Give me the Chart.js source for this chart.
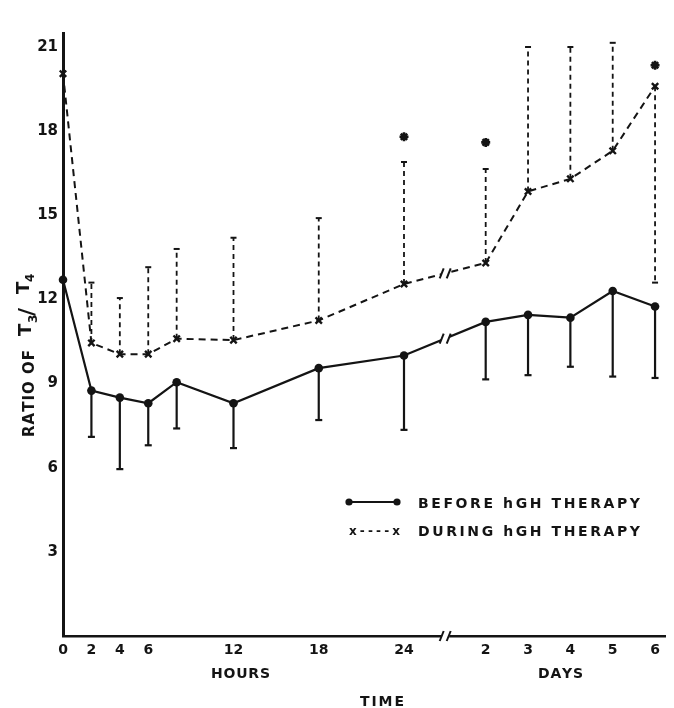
<!DOCTYPE html>
<html><head><meta charset="utf-8">
<script src="https://cdn.jsdelivr.net/npm/chart.js@4"></script>
<style>html,body{margin:0;padding:0;background:#fff}#wrap{width:674px;height:708px}</style>
</head><body><div id="wrap"><canvas id="c" width="674" height="708"></canvas></div>
<script>
// ---- data ----
const hours = [0, 2, 4, 6, 8, 12, 18, 24];
const days = [2, 3, 4, 5, 6];
const beforeMean = [12.7, 8.75, 8.5, 8.3, 9.05, 8.3, 9.55, 10.0, 11.2, 11.45, 11.35, 12.3, 11.75];
const beforeLow  = [null, 7.1, 5.95, 6.8, 7.4, 6.7, 7.7, 7.35, 9.15, 9.3, 9.6, 9.25, 9.2];
const duringMean = [20.05, 10.45, 10.05, 10.05, 10.6, 10.55, 11.25, 12.55, 13.3, 15.85, 16.3, 17.3, 19.6];
const duringEnd  = [null, 12.6, 12.05, 13.15, 13.8, 14.2, 14.9, 16.9, 16.65, 21.0, 21.0, 21.15, 12.6];
const asteriskAt = [null, null, null, null, null, null, null, 17.8, 17.6, 22.0, 22.0, 22.0, 20.35];
const yTicks = [3, 6, 9, 12, 15, 18, 21];
const hourTickLabels = ['0', '2', '4', '6', '12', '18', '24'];
const dayTickLabels = ['2', '3', '4', '5', '6'];

// ---- axis mapping (broken time axis: hours, then days) ----
const DAY_ORIGIN = 29.75, DAY_STEP = 2.98, X_MAX = 42.37, BREAK_AT = 26.9;
const dayPos = d => DAY_ORIGIN + (d - 2) * DAY_STEP;
const xs = hours.concat(days.map(dayPos));
const tickValues = hourTickLabels.map(Number).concat(dayTickLabels.map(Number).map(dayPos));
const tickLabels = hourTickLabels.concat(dayTickLabels);

const INK = '#141414';
const FONT = '"DejaVu Sans", "Liberation Sans", sans-serif';

function spaced(ctx, txt, x, y, width) {
  const chars = [...txt];
  const w = chars.reduce((s, c) => s + ctx.measureText(c).width, 0);
  const gap = chars.length > 1 ? (width - w) / (chars.length - 1) : 0;
  let cx = x;
  for (const c of chars) { ctx.fillText(c, cx, y); cx += ctx.measureText(c).width + gap; }
}
function seg(ctx, x1, y1, x2, y2) { ctx.beginPath(); ctx.moveTo(x1, y1); ctx.lineTo(x2, y2); ctx.stroke(); }

const deco = {
  id: 'deco',
  beforeDatasetsDraw(chart) {
    const { ctx, scales: { x, y } } = chart;
    ctx.save();
    ctx.strokeStyle = INK; ctx.lineCap = 'butt';
    xs.forEach((xv, i) => {
      const px = x.getPixelForValue(xv);
      if (beforeLow[i] != null) {
        const p0 = y.getPixelForValue(beforeMean[i]), p1 = y.getPixelForValue(beforeLow[i]);
        ctx.setLineDash([]); ctx.lineWidth = 2.2;
        seg(ctx, px, p0, px, p1);
        seg(ctx, px - 3.5, p1, px + 3.5, p1);
      }
      if (duringEnd[i] != null) {
        const p0 = y.getPixelForValue(duringMean[i]), p1 = y.getPixelForValue(duringEnd[i]);
        ctx.setLineDash([5, 4]); ctx.lineWidth = 1.8;
        seg(ctx, px, p0, px, p1);
        ctx.setLineDash([]); ctx.lineWidth = 2;
        seg(ctx, px - 3, p1, px + 3, p1);
      }
    });
    ctx.restore();
  },
  afterDatasetsDraw(chart) {
    const { ctx, chartArea, scales: { x, y } } = chart;
    const bx = x.getPixelForValue(BREAK_AT);
    ctx.save();
    ctx.fillStyle = '#fff';
    ctx.fillRect(bx - 4, chartArea.top + 60, 8, chartArea.bottom - chartArea.top - 56);
    ctx.strokeStyle = INK; ctx.lineWidth = 2; ctx.setLineDash([]);
    const ysAt = [chartArea.bottom];
    [beforeMean, duringMean].forEach(arr => {
      const i = hours.length - 1;
      const x0 = x.getPixelForValue(xs[i]), x1 = x.getPixelForValue(xs[i + 1]);
      const y0 = y.getPixelForValue(arr[i]), y1 = y.getPixelForValue(arr[i + 1]);
      ysAt.push(y0 + (y1 - y0) * (bx - x0) / (x1 - x0));
    });
    ysAt.forEach(yy => {
      seg(ctx, bx - 5.5, yy + 5, bx - 1.5, yy - 5);
      seg(ctx, bx + 1.5, yy + 5, bx + 5.5, yy - 5);
    });
    ctx.restore();
  },
  afterDraw(chart) {
    const { ctx } = chart;
    ctx.save();
    ctx.fillStyle = INK; ctx.strokeStyle = INK;
    ctx.textAlign = 'left'; ctx.textBaseline = 'alphabetic';
    // axis sub-titles
    ctx.font = 'bold 14px ' + FONT;
    spaced(ctx, 'HOURS', 211, 678, 59);
    spaced(ctx, 'DAYS', 538, 678, 45);
    spaced(ctx, 'TIME', 360, 706, 44);
    // y title (rotated, with subscripts)
    ctx.save();
    ctx.translate(34, 437);
    ctx.rotate(-Math.PI / 2);
    ctx.font = 'bold 15px ' + FONT;
    spaced(ctx, 'RATIO OF', 0, 0, 87);
    ctx.font = 'bold 18px ' + FONT; ctx.fillText('T', 101, -3);
    ctx.font = 'bold 12px ' + FONT; ctx.fillText('3', 114, 3);
    ctx.font = 'bold 22px ' + FONT; ctx.fillText('/', 121, 0);
    ctx.font = 'bold 18px ' + FONT; ctx.fillText('T', 143, -5);
    ctx.font = 'bold 12px ' + FONT; ctx.fillText('4', 155, 0);
    ctx.restore();
    // legend
    ctx.lineWidth = 2; ctx.setLineDash([]);
    seg(ctx, 349, 502, 397, 502);
    [349, 397].forEach(cx => { ctx.beginPath(); ctx.arc(cx, 502, 3.6, 0, Math.PI * 2); ctx.fill(); });
    ctx.font = 'bold 14px ' + FONT;
    spaced(ctx, 'BEFORE hGH THERAPY', 418, 507.5, 222);
    spaced(ctx, 'DURING hGH THERAPY', 418, 535.5, 222);
    ctx.font = 'bold 12px ' + FONT;
    spaced(ctx, 'x----x', 349, 534.5, 51);
    ctx.restore();
  }
};

const pts = arr => xs.map((xv, i) => ({ x: xv, y: arr[i] }));
const starPts = xs.map((xv, i) => ({ x: xv, y: asteriskAt[i] })).filter(p => p.y != null);

new Chart(document.getElementById('c'), {
  type: 'scatter',
  data: {
    datasets: [
      { label: 'BEFORE hGH THERAPY', data: pts(beforeMean), showLine: true, tension: 0,
        borderColor: INK, backgroundColor: INK, borderWidth: 2.2,
        pointStyle: 'circle', pointRadius: 4.3, pointBorderWidth: 0, clip: false },
      { label: 'DURING hGH THERAPY', data: pts(duringMean), showLine: true, tension: 0,
        borderColor: INK, backgroundColor: INK, borderWidth: 2, borderDash: [7, 5],
        pointStyle: 'crossRot', pointRadius: 4.5, pointBorderWidth: 2.4, clip: false },
      { label: 'significant', data: starPts, showLine: false,
        borderColor: INK, backgroundColor: INK,
        pointStyle: 'star', pointRadius: 4.5, pointBorderWidth: 2.6, clip: false }
    ]
  },
  options: {
    responsive: false, animation: false,
    layout: { padding: { top: 33, right: 9, left: 0, bottom: 0 } },
    plugins: { legend: { display: false }, tooltip: { enabled: false } },
    scales: {
      x: {
        type: 'linear', min: 0, max: X_MAX,
        afterBuildTicks: s => { s.ticks = tickValues.map(v => ({ value: v })); },
        afterFit: s => { s.height = 72; },
        ticks: { autoSkip: false, maxRotation: 0, padding: 6, color: INK,
          font: { family: FONT, size: 14, weight: 'bold' },
          callback: (v, i) => tickLabels[i] },
        grid: { display: false, drawTicks: false },
        border: { display: true, color: INK, width: 2.6 }
      },
      y: {
        type: 'linear', min: 0, max: 21.5,
        afterBuildTicks: s => { s.ticks = yTicks.map(v => ({ value: v })); },
        afterFit: s => { s.width = 63; },
        ticks: { padding: 5, color: INK, font: { family: FONT, size: 15, weight: 'bold' } },
        grid: { display: false, drawTicks: false },
        border: { display: true, color: INK, width: 3 }
      }
    }
  },
  plugins: [deco]
});
</script>
</body></html>
